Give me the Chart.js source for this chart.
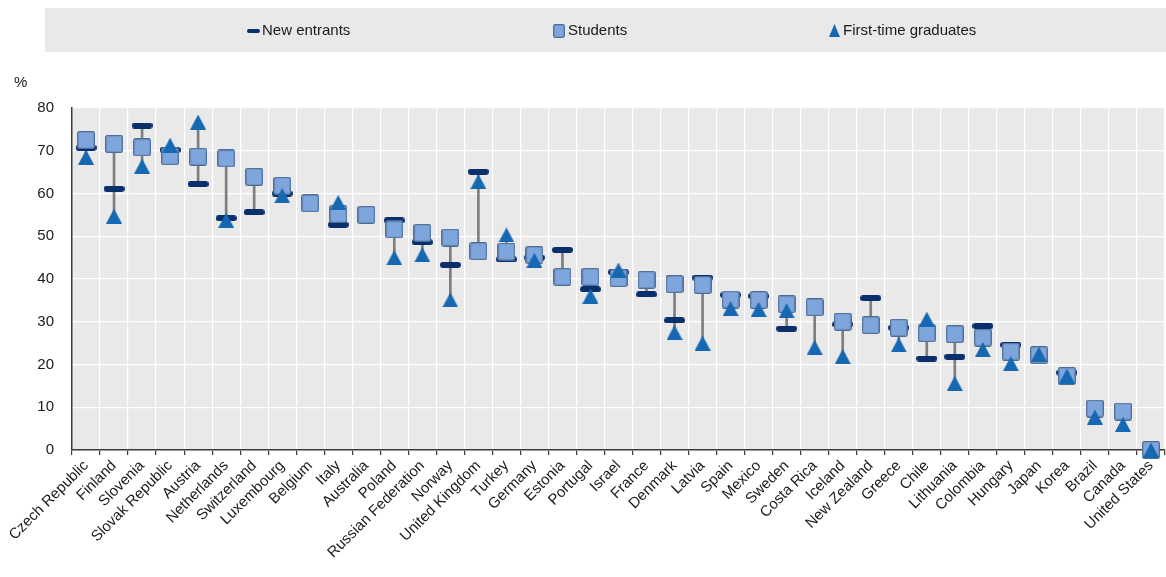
<!DOCTYPE html>
<html>
<head>
<meta charset="utf-8">
<script src="https://cdn.jsdelivr.net/npm/chart.js@4/dist/chart.umd.min.js"></script>
<style>
html, body { margin: 0; padding: 0; overflow: hidden; background: #fff; }
#wrap { width: 1174px; height: 577px; }
</style>
</head>
<body>
<div id="wrap"><canvas id="chart" width="1174" height="577"></canvas></div>
<script>
var countries = ['Czech Republic', 'Finland', 'Slovenia', 'Slovak Republic', 'Austria', 'Netherlands',
    'Switzerland', 'Luxembourg', 'Belgium', 'Italy', 'Australia', 'Poland', 'Russian Federation', 'Norway',
    'United Kingdom', 'Turkey', 'Germany', 'Estonia', 'Portugal', 'Israel', 'France', 'Denmark', 'Latvia',
    'Spain', 'Mexico', 'Sweden', 'Costa Rica', 'Iceland', 'New Zealand', 'Greece', 'Chile', 'Lithuania',
    'Colombia', 'Hungary', 'Japan', 'Korea', 'Brazil', 'Canada', 'United States'];

var newEntrants = [70.7, 61.1, 75.9, 70.2, 62.2, 54.2, 55.6, 60.0, null, 52.7, null, 53.7, 48.6, 43.3,
    65.1, 44.6, 45.0, 46.8, 37.6, 41.6, 36.4, 30.3, 40.3, 36.3, 36.0, 28.4, null, 29.4, 35.5, 28.6,
    21.4, 21.8, 29.0, 24.6, null, 18.1, null, null, null];

var students = [72.5, 71.6, 70.8, 68.7, 68.6, 68.2, 63.9, 61.8, 57.7, 55.2, 55.0, 51.6, 50.8, 49.7,
    46.5, 46.4, 45.6, 40.5, 40.5, 40.2, 39.8, 38.8, 38.6, 35.2, 35.1, 34.1, 33.4, 30.0, 29.2, 28.6,
    27.3, 27.1, 26.3, 23.0, 22.2, 17.3, 9.7, 9.0, 0];

var graduates = [68.5, 54.7, 66.4, 71.3, 76.7, 53.7, null, 59.5, null, 57.9, null, 45.0, 45.7, 35.1,
    62.8, 50.3, 44.4, null, 36.0, 42.1, null, 27.5, 25.0, 33.1, 32.9, 32.6, 24.0, 21.9, null, 24.6,
    30.6, 15.6, 23.5, 20.2, 22.4, 17.3, 7.7, 6.0, 0];

var seriesNames = ['New entrants', 'Students', 'First-time graduates'];
var yTicks = [0, 10, 20, 30, 40, 50, 60, 70, 80];

var NAVY = '#0b2f6b';
var SQUARE_FILL = '#7ea6dc';
var SQUARE_LINE = '#4d6b94';
var TRI = '#1768b2';
var FONT = '"Liberation Sans", Arial, sans-serif';

function marker(w, h, draw) {
    var c = document.createElement('canvas');
    c.width = w;
    c.height = h;
    draw(c.getContext('2d'), w, h);
    return c;
}

function roundRect(ctx, x, y, w, h, r) {
    ctx.beginPath();
    ctx.moveTo(x + r, y);
    ctx.lineTo(x + w - r, y);
    ctx.arcTo(x + w, y, x + w, y + r, r);
    ctx.lineTo(x + w, y + h - r);
    ctx.arcTo(x + w, y + h, x + w - r, y + h, r);
    ctx.lineTo(x + r, y + h);
    ctx.arcTo(x, y + h, x, y + h - r, r);
    ctx.lineTo(x, y + r);
    ctx.arcTo(x, y, x + r, y, r);
    ctx.closePath();
}

function drawDash(ctx, x, y, w, h) {
    ctx.fillStyle = NAVY;
    roundRect(ctx, x, y, w, h, h / 2);
    ctx.fill();
}

function drawSquare(ctx, x, y, w, h) {
    ctx.fillStyle = SQUARE_FILL;
    ctx.strokeStyle = SQUARE_LINE;
    ctx.lineWidth = 1.3;
    roundRect(ctx, x + 0.7, y + 0.7, w - 1.4, h - 1.4, 1.5);
    ctx.fill();
    ctx.stroke();
}

function drawTriangle(ctx, x, y, w, h) {
    ctx.fillStyle = TRI;
    ctx.beginPath();
    ctx.moveTo(x + w / 2, y);
    ctx.lineTo(x + w, y + h);
    ctx.lineTo(x, y + h);
    ctx.closePath();
    ctx.fill();
}

var dashImg = marker(21, 6, function (ctx, w, h) { drawDash(ctx, 0, 0, w, h); });
var squareImg = marker(18, 18, function (ctx, w, h) { drawSquare(ctx, 0, 0, w, h); });
var triImg = marker(16, 15, function (ctx, w, h) { drawTriangle(ctx, 0, 0, w, h); });

// gray high-low line behind the markers
var ranges = countries.map(function (c, i) {
    var vals = [newEntrants[i], students[i], graduates[i]].filter(function (v) { return v !== null; });
    return [Math.min.apply(null, vals), Math.max.apply(null, vals)];
});

var backdrop = {
    id: 'backdrop',
    beforeDraw: function (chart) {
        var ctx = chart.ctx;
        var a = chart.chartArea;
        ctx.save();
        ctx.fillStyle = '#e9e9e9';
        ctx.fillRect(a.left, a.top, a.right - a.left, a.bottom - a.top);
        // legend box
        ctx.fillRect(45, 8, chart.width - 45, 44);
        ctx.font = '15px ' + FONT;
        ctx.textBaseline = 'middle';
        var ly = 31;
        drawDash(ctx, 247, ly - 2, 13, 4);
        ctx.fillStyle = '#1a1a1a';
        ctx.fillText(seriesNames[0], 262, ly);
        drawSquare(ctx, 553, ly - 7, 12, 14);
        ctx.fillStyle = '#1a1a1a';
        ctx.fillText(seriesNames[1], 568, ly);
        drawTriangle(ctx, 829, ly - 7, 11, 13);
        ctx.fillStyle = '#1a1a1a';
        ctx.fillText(seriesNames[2], 843, ly);
        ctx.font = '15px ' + FONT;
        ctx.fillText('%', 14, 83);
        ctx.restore();
    }
};

var ctx = document.getElementById('chart').getContext('2d');
var chart = new Chart(ctx, {
    data: {
        labels: countries,
        datasets: [
            {
                type: 'line', label: seriesNames[2], data: graduates, showLine: false,
                pointStyle: triImg, pointRadius: 8, order: 1, clip: false
            },
            {
                type: 'line', label: seriesNames[1], data: students, showLine: false,
                pointStyle: squareImg, pointRadius: 8, order: 2, clip: false
            },
            {
                type: 'line', label: seriesNames[0], data: newEntrants, showLine: false,
                pointStyle: dashImg, pointRadius: 8, order: 3, clip: false
            },
            {
                type: 'bar', label: 'range', data: ranges, backgroundColor: '#7e7e7e',
                barThickness: 2, order: 4
            }
        ]
    },
    options: {
        responsive: false,
        animation: false,
        layout: { padding: { top: 108, right: 0, left: 0, bottom: 0 } },
        plugins: {
            legend: { display: false },
            tooltip: { enabled: false }
        },
        scales: {
            x: {
                offset: true,
                grid: { color: '#ffffff', lineWidth: 1.2, offset: true, tickColor: '#3a3a3a', tickLength: 5 },
                border: { color: '#3a3a3a', width: 1.5 },
                ticks: {
                    autoSkip: false, maxRotation: 45, minRotation: 45, padding: 2,
                    color: '#1a1a1a',
                    font: { family: FONT, size: 15 }
                },
                afterFit: function (scale) { scale.height = 127; }
            },
            y: {
                min: 0, max: 80,
                afterBuildTicks: function (scale) {
                    scale.ticks = yTicks.map(function (v) { return { value: v }; });
                },
                grid: { color: '#ffffff', lineWidth: 1.2, drawTicks: false },
                border: { color: '#3a3a3a', width: 1.5 },
                ticks: {
                    padding: 18, color: '#1a1a1a',
                    font: { family: FONT, size: 15 }
                },
                afterFit: function (scale) { scale.width = 72; }
            }
        }
    },
    plugins: [backdrop]
});
</script>
</body>
</html>
